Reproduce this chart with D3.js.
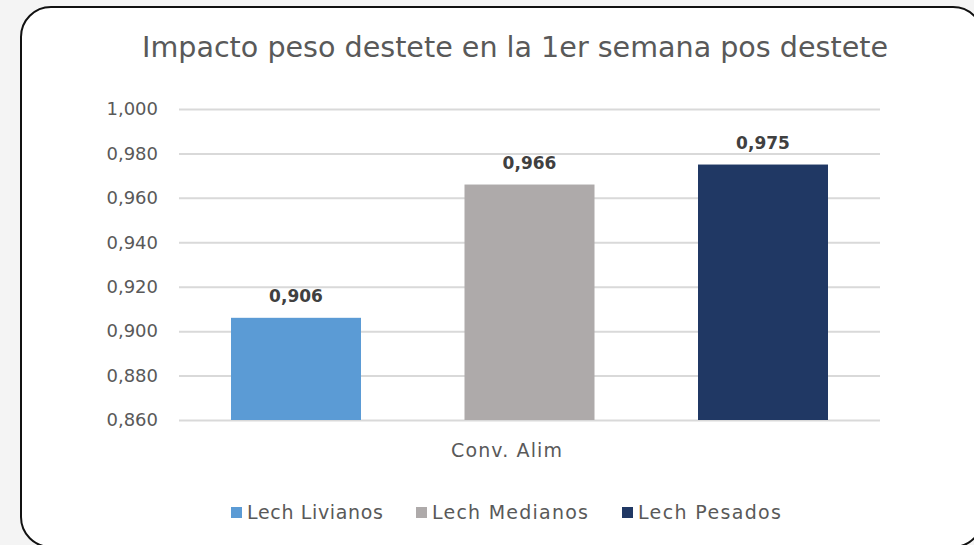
<!DOCTYPE html>
<html>
<head>
<meta charset="utf-8">
<script src="https://cdn.jsdelivr.net/npm/d3@7"></script>
<style>
  body { margin: 0; background: #f4f4f4; }
  svg { display: block; font-family: "DejaVu Sans", sans-serif; }
</style>
</head>
<body>
<div id="chart"></div>
<script>
var series = ['Lech Livianos', 'Lech Medianos', 'Lech Pesados'];
var values = [0.906, 0.966, 0.975];
var colors = ['#5b9bd5', '#aeaaaa', '#203864'];
var category = 'Conv. Alim';
var yTicks = [0.86, 0.88, 0.90, 0.92, 0.94, 0.96, 0.98, 1.00];
var title = 'Impacto peso destete en la 1er semana pos destete';

var width = 974, height = 545;
var svg = d3.select('#chart').append('svg')
  .attr('width', width)
  .attr('height', height);

// card frame
svg.append('rect')
  .attr('x', 21).attr('y', 7)
  .attr('width', 962).attr('height', 540)
  .attr('rx', 30).attr('ry', 30)
  .attr('fill', '#ffffff')
  .attr('stroke', '#111')
  .attr('stroke-width', 2);

var margin = { top: 109, left: 179, right: 94, bottom: 125 };
var g_width = width - margin.left - margin.right;
var g_height = height - margin.top - margin.bottom;

var g = svg.append('g')
  .attr('transform', 'translate(' + margin.left + ',' + margin.top + ')');

var yScale = d3.scaleLinear().domain([0.86, 1.0]).range([g_height, 0]);
var fmt = function (v) { return d3.format('.3f')(v).replace('.', ','); };

var yAxis = d3.axisLeft(yScale)
  .tickValues(yTicks)
  .tickSize(-g_width)
  .tickPadding(21)
  .tickFormat(fmt);

var ya = g.append('g').call(yAxis).attr('font-family', null);
ya.select('.domain').remove();
ya.selectAll('.tick line').attr('stroke', '#d9d9d9').attr('stroke-width', 2);
ya.selectAll('.tick text')
  .attr('fill', '#595959')
  .style('font-size', '18px');

// bars
var xPos = d3.scalePoint().domain(series).range([117, 584]);
var barW = 130;

g.selectAll('.bar')
  .data(values)
  .enter()
  .append('rect')
  .attr('class', 'bar')
  .attr('x', function (d, i) { return xPos(series[i]) - barW / 2; })
  .attr('y', function (d) { return yScale(d); })
  .attr('width', barW)
  .attr('height', function (d) { return g_height - yScale(d); })
  .attr('fill', function (d, i) { return colors[i]; });

g.selectAll('.lbl')
  .data(values)
  .enter()
  .append('text')
  .attr('class', 'lbl')
  .attr('x', function (d, i) { return xPos(series[i]); })
  .attr('y', function (d) { return yScale(d) - 16; })
  .attr('text-anchor', 'middle')
  .attr('fill', '#404040')
  .style('font-size', '17px')
  .style('font-weight', 'bold')
  .text(fmt);

// category label
g.append('text')
  .attr('x', xPos(series[1]) - 23)
  .attr('y', g_height + 37)
  .attr('text-anchor', 'middle')
  .attr('fill', '#595959')
  .style('font-size', '19px')
  .attr('textLength', 111)
  .text(category);

// title
svg.append('text')
  .attr('x', 515)
  .attr('y', 57)
  .attr('text-anchor', 'middle')
  .attr('fill', '#595959')
  .style('font-size', '28px')
  .attr('textLength', 746)
  .attr('lengthAdjust', 'spacingAndGlyphs')
  .text(title);

// legend
var legX = [231, 416, 622];
var legW = [136, 156, 143];
var leg = svg.append('g');
series.forEach(function (s, i) {
  leg.append('rect')
    .attr('x', legX[i]).attr('y', 507)
    .attr('width', 11).attr('height', 11)
    .attr('fill', colors[i]);
  leg.append('text')
    .attr('x', legX[i] + 16)
    .attr('y', 519)
    .attr('fill', '#595959')
    .style('font-size', '19px')
    .attr('textLength', legW[i])
    .text(s);
});
</script>
</body>
</html>
